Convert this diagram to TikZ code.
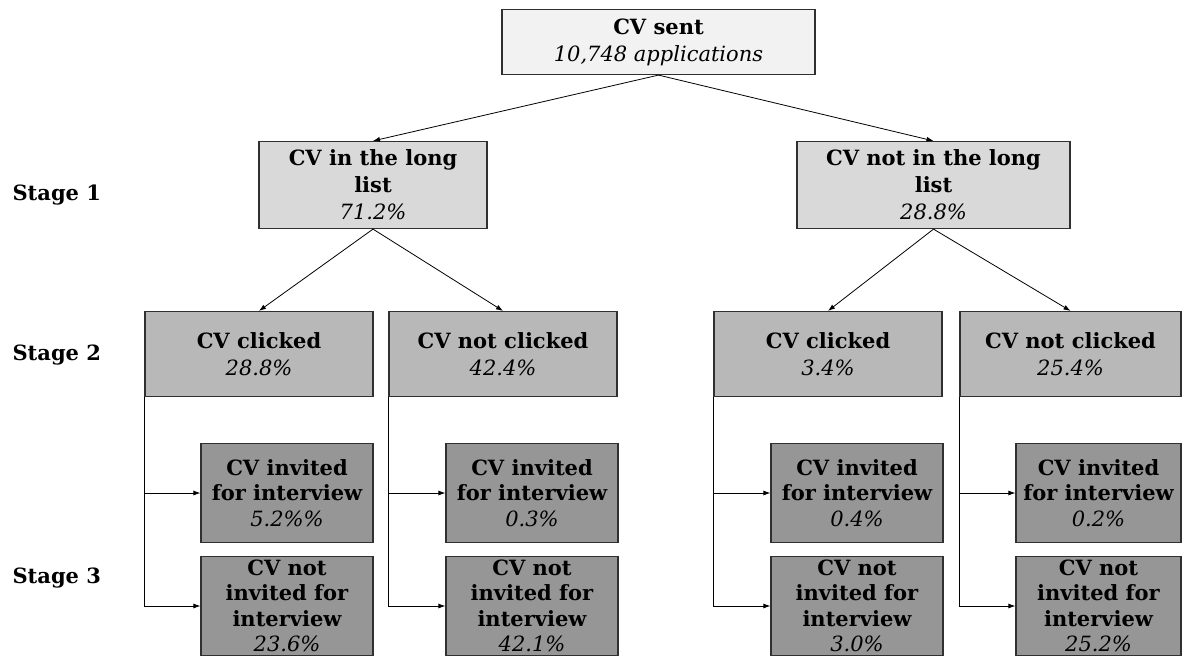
\documentclass[tikz,border=0pt]{standalone}
\usepackage{fontspec}
\setmainfont{DejaVu Serif}
\usetikzlibrary{arrows.meta}

\definecolor{fillA}{HTML}{F2F2F2}
\definecolor{fillB}{HTML}{D9D9D9}
\definecolor{fillC}{HTML}{B8B8B8}
\definecolor{fillD}{HTML}{969696}
\definecolor{edge}{HTML}{303030}

\newcommand{\share}[1]{{\mdseries\itshape #1}}

\tikzset{
    box/.style={draw=edge, line width=1.2pt, align=center, inner xsep=0pt, inner ysep=0pt,
        font=\fontsize{21}{27}\selectfont\bfseries},
    topbox/.style={box, fill=fillA, minimum width=313pt, minimum height=65pt},
    onebox/.style={box, fill=fillB, minimum width=228pt, minimum height=87pt},
    twobox/.style={box, fill=fillC, minimum width=228pt, minimum height=85pt},
    threebox/.style={box, fill=fillD, minimum width=172pt, minimum height=99pt,
        font=\fontsize{21}{25.5}\selectfont\bfseries},
    stagelbl/.style={anchor=west, font=\fontsize{21}{24}\selectfont\bfseries},
    arr/.style={line width=0.8pt, -{Latex[length=7pt,width=5pt]}},
}

\begin{document}
\begin{tikzpicture}[x=1pt, y=-1pt]
    \useasboundingbox (0,0) rectangle (1182,657);
    \clip (0,0) rectangle (1182,657);

    % stage labels
    \node[stagelbl] (st1) at (9,195) {Stage 1};
    \node[stagelbl] (st2) at (9,355) {Stage 2};
    \node[stagelbl] (st3) at (9,578) {Stage 3};

    % root
    \node[topbox] (sent) at (658.5,42) {CV sent\\\share{10,748 applications}};

    % stage 1
    \node[onebox] (inlist) at (373,185) {CV in the long\\list\\\share{71.2\%}};
    \node[onebox, minimum width=273pt] (outlist) at (933.5,185) {CV not in the long\\list\\\share{28.8\%}};

    % stage 2
    \node[twobox] (clkA) at (259,354) {CV clicked\\\share{28.8\%}};
    \node[twobox] (nclkA) at (503,354) {CV not clicked\\\share{42.4\%}};
    \node[twobox] (clkB) at (828,354) {CV clicked\\\share{3.4\%}};
    \node[twobox, minimum width=221pt] (nclkB) at (1070.5,354) {CV not clicked\\\share{25.4\%}};

    % stage 3
    \node[threebox] (invA) at (287,493) {CV invited\\for interview\\\share{5.2\%\%}};
    \node[threebox] (ninvA) at (287,606) {CV not\\invited for\\interview\\\share{23.6\%}};
    \node[threebox] (invB) at (532,493) {CV invited\\for interview\\\share{0.3\%}};
    \node[threebox] (ninvB) at (532,606) {CV not\\invited for\\interview\\\share{42.1\%}};
    \node[threebox] (invC) at (857,493) {CV invited\\for interview\\\share{0.4\%}};
    \node[threebox] (ninvC) at (857,606) {CV not\\invited for\\interview\\\share{3.0\%}};
    \node[threebox, minimum width=165pt] (invD) at (1098.5,493) {CV invited\\for interview\\\share{0.2\%}};
    \node[threebox, minimum width=165pt] (ninvD) at (1098.5,606) {CV not\\invited for\\interview\\\share{25.2\%}};

    % connectors
    \draw[arr] (sent.south) -- (inlist.north);
    \draw[arr] (sent.south) -- (outlist.north);
    \draw[arr] (inlist.south) -- (clkA.north);
    \draw[arr] (inlist.south) -- (nclkA.north);
    \draw[arr] (outlist.south) -- (clkB.north);
    \draw[arr] (outlist.south) -- (nclkB.north);

    \foreach \s/\a/\b in {clkA/invA/ninvA, nclkA/invB/ninvB, clkB/invC/ninvC, nclkB/invD/ninvD} {
        \draw[arr] (\s.south west) |- (\a.west);
        \draw[arr] (\s.south west) |- (\b.west);
    }
\end{tikzpicture}
\end{document}
